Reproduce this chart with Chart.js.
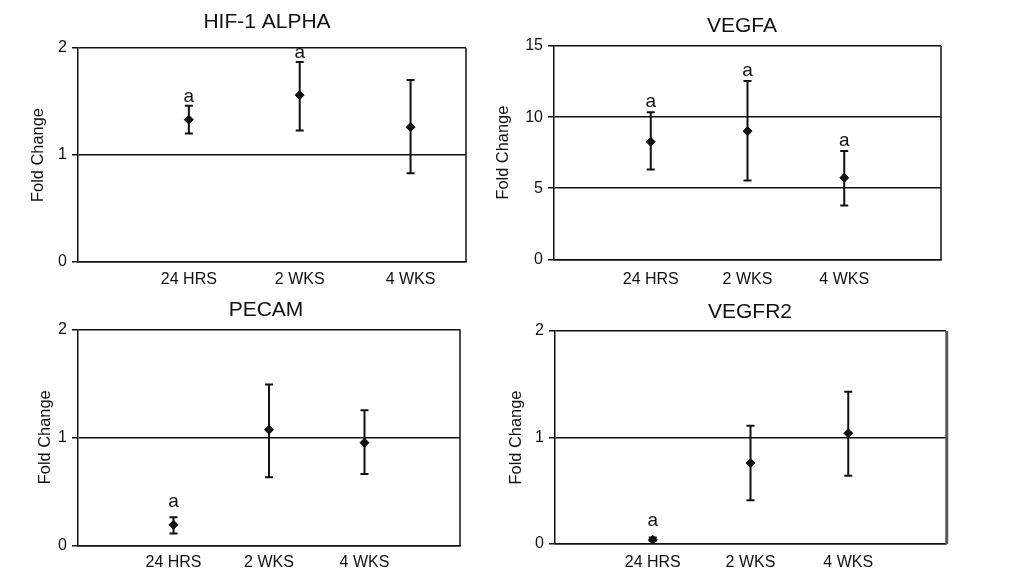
<!DOCTYPE html>
<html>
<head>
<meta charset="utf-8">
<script src="https://cdn.jsdelivr.net/npm/chart.js@4.4.0/dist/chart.umd.min.js"></script>
<style>
  body { margin: 0; background: #fff; width: 1009px; height: 583px; position: relative; overflow: hidden; }
  canvas { position: absolute; }
</style>
</head>
<body>
<canvas id="hif" width="510" height="290" style="left:0px;top:0px"></canvas>
<canvas id="vegfa" width="515" height="290" style="left:480px;top:0px"></canvas>
<canvas id="pecam" width="501" height="293" style="left:0px;top:290px"></canvas>
<canvas id="vegfr2" width="498" height="293" style="left:500px;top:290px"></canvas>
<script>
// time points on the x axis
const timePoints = ['24 HRS', '2 WKS', '4 WKS'];

// HIF-1 alpha
const hifMean = [1.33, 1.56, 1.26];
const hifLow  = [1.20, 1.23, 0.83];
const hifHigh = [1.46, 1.87, 1.70];
const hifSig  = ['a', 'a', ''];
const hifTicks = [0, 1, 2];

// VEGFA
const vegfaMean = [8.26, 9.01, 5.73];
const vegfaLow  = [6.32, 5.55, 3.79];
const vegfaHigh = [10.34, 12.54, 7.61];
const vegfaSig  = ['a', 'a', 'a'];
const vegfaTicks = [0, 5, 10, 15];

// PECAM
const pecamMean = [0.19, 1.07, 0.95];
const pecamLow  = [0.11, 0.63, 0.66];
const pecamHigh = [0.26, 1.49, 1.25];
const pecamSig  = ['a', '', ''];
const pecamTicks = [0, 1, 2];

// VEGFR2
const vegfr2Mean = [0.04, 0.76, 1.04];
const vegfr2Low  = [0.03, 0.41, 0.64];
const vegfr2High = [0.06, 1.11, 1.43];
const vegfr2Sig  = ['a', '', ''];
const vegfr2Ticks = [0, 1, 2];

const FONT = '"Liberation Sans", Arial, Helvetica, sans-serif';
const INK = '#111';

// error bars, significance letters and the right side of the frame
const errorBarPlugin = {
  id: 'errorBars',
  beforeDatasetsDraw(chart) {
    const ds = chart.data.datasets[0];
    const xs = chart.scales.x, ys = chart.scales.y;
    const ctx = chart.ctx;
    const area = chart.chartArea;
    ctx.save();
    // right frame line
    ctx.strokeStyle = ds.frameColor;
    ctx.lineWidth = ds.frameWidth;
    ctx.beginPath();
    ctx.moveTo(area.right + ds.frameWidth / 2 - 0.75, area.top);
    ctx.lineTo(area.right + ds.frameWidth / 2 - 0.75, area.bottom);
    ctx.stroke();

    ctx.strokeStyle = INK;
    ctx.fillStyle = INK;
    ctx.lineWidth = 2;
    ctx.font = '19px ' + FONT;
    ctx.textAlign = 'center';
    ctx.textBaseline = 'alphabetic';
    ds.errLow.forEach((lo, i) => {
      const px = xs.getPixelForValue(i + 1);
      const top = ys.getPixelForValue(ds.errHigh[i]);
      const bot = ys.getPixelForValue(lo);
      ctx.beginPath();
      ctx.moveTo(px, top); ctx.lineTo(px, bot);
      ctx.moveTo(px - 4, top); ctx.lineTo(px + 4, top);
      ctx.moveTo(px - 4, bot); ctx.lineTo(px + 4, bot);
      ctx.stroke();
      if (ds.sig[i]) {
        ctx.fillText(ds.sig[i], px, top - ds.sigGap);
      }
    });
    ctx.restore();
  }
};

function makePanel(id, title, mean, low, high, sig, yTicks, xMax, lay) {
  const canvas = document.getElementById(id);
  // title box spans padLeft..(width - padRight); an empty right axis fills the gap
  const titleSpanRight = 2 * lay.titleCenter - lay.padLeft;
  const padRight = canvas.width - titleSpanRight;
  const spacerW = titleSpanRight - lay.right;
  return new Chart(canvas, {
    type: 'scatter',
    data: {
      datasets: [{
        data: mean.map((v, i) => ({ x: i + 1, y: v })),
        errLow: low,
        errHigh: high,
        sig: sig,
        sigGap: lay.sigGap,
        frameWidth: lay.frameWidth || 1.5,
        frameColor: lay.frameColor || INK,
        pointStyle: 'rectRot',
        pointRadius: 4.5,
        pointBackgroundColor: INK,
        pointBorderColor: INK,
        pointBorderWidth: 1
      }]
    },
    options: {
      responsive: false,
      animation: false,
      events: [],
      layout: {
        padding: { left: lay.padLeft, right: padRight, top: 0, bottom: 0 }
      },
      plugins: {
        legend: { display: false },
        tooltip: { enabled: false },
        title: {
          display: true,
          text: title,
          color: INK,
          font: { family: FONT, size: 21, weight: 'normal' },
          padding: { top: lay.titleTop, bottom: lay.titleBottom }
        }
      },
      scales: {
        x: {
          type: 'linear',
          min: 0,
          max: xMax,
          afterBuildTicks: s => { s.ticks = timePoints.map((t, i) => ({ value: i + 1 })); },
          afterFit: s => { s.height = lay.axisH; },
          grid: { display: false, drawTicks: false },
          border: { display: true, color: INK, width: 1.5 },
          ticks: {
            padding: lay.xPad,
            color: INK,
            font: { family: FONT, size: 16 },
            callback: (v, i) => timePoints[i]
          }
        },
        y: {
          min: yTicks[0],
          max: yTicks[yTicks.length - 1],
          afterBuildTicks: s => { s.ticks = yTicks.map(v => ({ value: v })); },
          afterFit: s => { s.width = lay.axisW; },
          grid: { color: INK, lineWidth: 1.5, tickLength: 6 },
          border: { color: INK, width: 1.5 },
          ticks: {
            padding: 5,
            color: INK,
            font: { family: FONT, size: 16 }
          },
          title: {
            display: true,
            text: 'Fold Change',
            color: INK,
            font: { family: FONT, size: 16.4 },
            padding: { top: 4, bottom: 0 }
          }
        },
        spacer: {
          type: 'linear',
          position: 'right',
          afterFit: s => { s.width = spacerW; },
          grid: { display: false, drawTicks: false },
          border: { display: false },
          ticks: { display: false }
        }
      }
    },
    plugins: [errorBarPlugin]
  });
}

makePanel('hif', 'HIF-1 ALPHA', hifMean, hifLow, hifHigh, hifSig, hifTicks, 3.5,
  { padLeft: 24.5, axisW: 53.5, right: 466, titleCenter: 267, titleTop: 10.1, titleBottom: 12.7, axisH: 28, xPad: 7.7, sigGap: 4 });
makePanel('vegfa', 'VEGFA', vegfaMean, vegfaLow, vegfaHigh, vegfaSig, vegfaTicks, 4,
  { padLeft: 9.5, axisW: 64.5, right: 461, titleCenter: 262, titleTop: 14.1, titleBottom: 6.7, axisH: 30.7, xPad: 10.4, sigGap: 5 });
makePanel('pecam', 'PECAM', pecamMean, pecamLow, pecamHigh, pecamSig, pecamTicks, 4,
  { padLeft: 31.2, axisW: 46.8, right: 460, titleCenter: 266, titleTop: 8.1, titleBottom: 6, axisH: 37.7, xPad: 7.4, sigGap: 10 });
makePanel('vegfr2', 'VEGFR2', vegfr2Mean, vegfr2Low, vegfr2High, vegfr2Sig, vegfr2Ticks, 4,
  { padLeft: 2.2, axisW: 52.8, right: 446, titleCenter: 250, titleTop: 10.1, titleBottom: 5.7, axisH: 39, xPad: 8.7, sigGap: 12,
    frameWidth: 3, frameColor: '#555' });
</script>
</body>
</html>
